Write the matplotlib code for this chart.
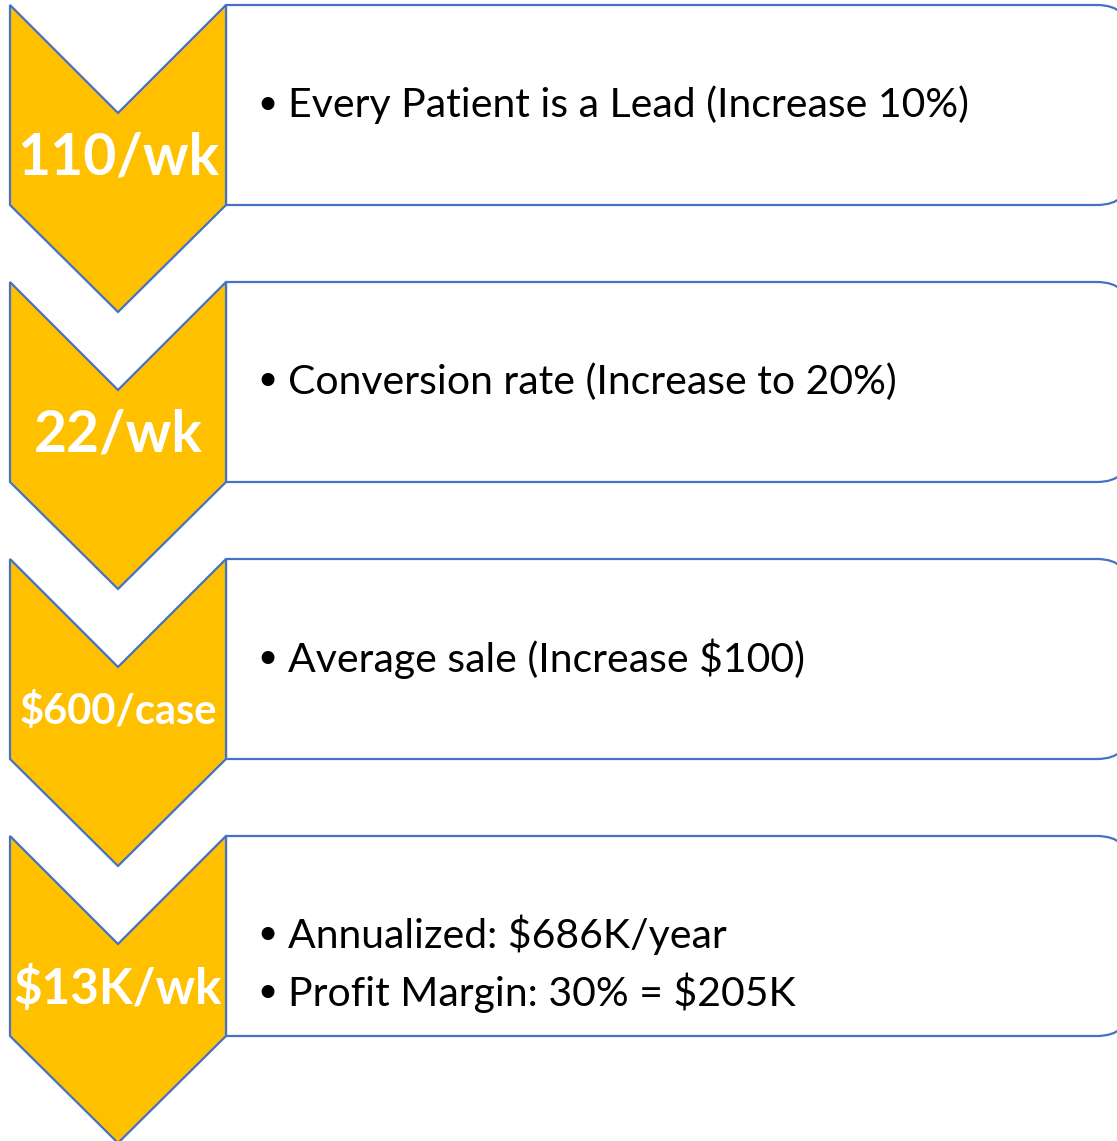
import matplotlib.pyplot as plt
from matplotlib.path import Path
from matplotlib.patches import PathPatch, Polygon

# content
step_labels = ["110/wk", "22/wk", "$600/case", "$13K/wk"]
step_label_sizes = [41, 41, 30, 35.5]
step_bullets = [
    ["Every Patient is a Lead (Increase 10%)"],
    ["Conversion rate (Increase to 20%)"],
    ["Average sale (Increase $100)"],
    ["Annualized: $686K/year", "Profit Margin: 30% = $205K"],
]

W, H = 1117, 1141
GOLD = "#FFC000"
BLUE = "#4472C4"

fig = plt.figure(figsize=(W / 100, H / 100), dpi=100)
ax = fig.add_axes([0, 0, 1, 1])
ax.set_xlim(0, W)
ax.set_ylim(H, 0)
ax.axis("off")

x0, x1 = 10, 226          # chevron left/right
top0, step = 5, 277       # first row top, row spacing
box_h, notch = 200, 108
box_right, rad = 1130, 33

for i, (lab, size, bullets) in enumerate(zip(step_labels, step_label_sizes, step_bullets)):
    top = top0 + i * step
    xm = (x0 + x1) / 2
    # box with rounded right corners
    verts = [
        (x1, top), (box_right - rad, top), (box_right, top), (box_right, top + rad),
        (box_right, top + box_h - rad), (box_right, top + box_h), (box_right - rad, top + box_h),
        (x1, top + box_h), (x1, top),
    ]
    codes = [Path.MOVETO, Path.LINETO, Path.CURVE3, Path.CURVE3,
             Path.LINETO, Path.CURVE3, Path.CURVE3, Path.LINETO, Path.CLOSEPOLY]
    ax.add_patch(PathPatch(Path(verts, codes), facecolor="white", edgecolor=BLUE, lw=1.6, zorder=1))

    # chevron pointing down
    chev = [
        (x0, top), (xm, top + notch), (x1, top), (x1, top + box_h),
        (xm, top + box_h + notch - 1), (x0, top + box_h),
    ]
    ax.add_patch(Polygon(chev, closed=True, facecolor=GOLD, edgecolor=BLUE, lw=1.6, zorder=2))

    ax.text(xm, top + 153, lab, color="white", fontsize=size, fontweight="bold",
            family="Lato", ha="center", va="center", zorder=3)

    n = len(bullets)
    ys = [top + 100] if n == 1 else [top + 99, top + 157]
    for y, b in zip(ys, bullets):
        ax.text(254, y + 2, "\u2022", fontsize=32, family="DejaVu Sans", ha="left", va="center", zorder=3)
        ax.text(288, y, b, fontsize=29.5, family="Lato", ha="left", va="center", zorder=3)

fig.savefig("out.png", dpi=100, facecolor="white")
